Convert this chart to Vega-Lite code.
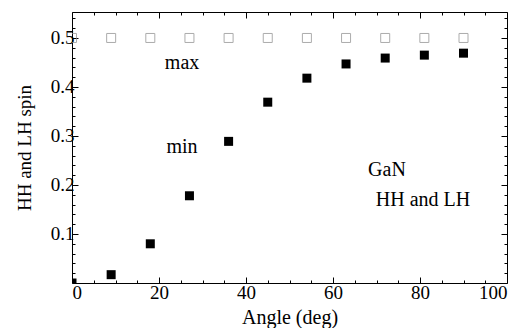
{
  "$schema": "https://vega.github.io/schema/vega-lite/v6.json",
  "width": 435,
  "height": 271,
  "autosize": "none",
  "padding": {"left": 72, "top": 12, "right": 17, "bottom": 45},
  "background": "white",
  "config": {
    "view": {"stroke": "black", "strokeWidth": 1},
    "font": "Liberation Serif",
    "axis": {
      "grid": false,
      "domain": false,
      "labelFont": "Liberation Serif",
      "titleFont": "Liberation Serif",
      "labelFontSize": 19,
      "titleFontSize": 20,
      "titleFontWeight": "normal",
      "labelColor": "black",
      "titleColor": "black",
      "tickColor": "black"
    }
  },
  "datasets": {
    "filled": [
      {"angle": 0, "spin": 0.0},
      {"angle": 9, "spin": 0.017},
      {"angle": 18, "spin": 0.08},
      {"angle": 27, "spin": 0.178},
      {"angle": 36, "spin": 0.289},
      {"angle": 45, "spin": 0.369},
      {"angle": 54, "spin": 0.418},
      {"angle": 63, "spin": 0.447},
      {"angle": 72, "spin": 0.459},
      {"angle": 81, "spin": 0.465},
      {"angle": 90, "spin": 0.469}
    ],
    "open": [
      {"angle": 0, "spin": 0.5},
      {"angle": 9, "spin": 0.5},
      {"angle": 18, "spin": 0.5},
      {"angle": 27, "spin": 0.5},
      {"angle": 36, "spin": 0.5},
      {"angle": 45, "spin": 0.5},
      {"angle": 54, "spin": 0.5},
      {"angle": 63, "spin": 0.5},
      {"angle": 72, "spin": 0.5},
      {"angle": 81, "spin": 0.5},
      {"angle": 90, "spin": 0.5}
    ],
    "labels": [
      {"angle": 25.3, "spin": 0.449, "text": "max"},
      {"angle": 25.3, "spin": 0.277, "text": "min"},
      {"angle": 72.4, "spin": 0.23, "text": "GaN"},
      {"angle": 80.7, "spin": 0.17, "text": "HH and LH"}
    ]
  },
  "resolve": {"axis": {"x": "independent", "y": "independent"}},
  "layer": [
    {
      "data": {"name": "open"},
      "mark": {"type": "square", "filled": false, "stroke": "#8a8a8a", "strokeWidth": 1, "size": 81, "clip": true},
      "encoding": {
        "x": {
          "field": "angle", "type": "quantitative",
          "scale": {"domain": [0, 100], "nice": false, "zero": false},
          "axis": {
            "title": "Angle  (deg)",
            "format": "d",
            "values": [0,5,10,15,20,25,30,35,40,45,50,55,60,65,70,75,80,85,90,95,100],
            "labelExpr": "datum.value % 20 === 0 ? datum.label : ''",
            "tickSize": {"condition": {"test": "datum.value % 20 === 0", "value": -6}, "value": -3},
            "labelPadding": 6,
            "titlePadding": 5
          }
        },
        "y": {
          "field": "spin", "type": "quantitative",
          "scale": {"domain": [0, 0.553], "nice": false, "zero": false},
          "axis": {
            "title": "HH and LH spin",
            "titleFontSize": 19,
            "format": ".1f",
            "values": [0.02,0.04,0.06,0.08,0.1,0.12,0.14,0.16,0.18,0.2,0.22,0.24,0.26,0.28,0.3,0.32,0.34,0.36,0.38,0.4,0.42,0.44,0.46,0.48,0.5,0.52,0.54],
            "labelExpr": "abs(datum.value*10 - round(datum.value*10)) < 0.001 ? datum.label : ''",
            "tickSize": {"condition": {"test": "abs(datum.value*10 - round(datum.value*10)) < 0.001", "value": -6}, "value": -3},
            "labelPadding": 4,
            "titlePadding": 16
          }
        }
      }
    },
    {
      "data": {"name": "filled"},
      "mark": {"type": "square", "filled": true, "color": "black", "opacity": 1, "size": 81, "clip": true},
      "encoding": {
        "x": {
          "field": "angle", "type": "quantitative",
          "axis": {
            "orient": "top", "title": null, "labels": false,
            "values": [0,5,10,15,20,25,30,35,40,45,50,55,60,65,70,75,80,85,90,95,100],
            "tickSize": {"condition": {"test": "datum.value % 20 === 0", "value": -6}, "value": -3}
          }
        },
        "y": {
          "field": "spin", "type": "quantitative",
          "axis": {
            "orient": "right", "title": null, "labels": false,
            "values": [0.02,0.04,0.06,0.08,0.1,0.12,0.14,0.16,0.18,0.2,0.22,0.24,0.26,0.28,0.3,0.32,0.34,0.36,0.38,0.4,0.42,0.44,0.46,0.48,0.5,0.52,0.54],
            "tickSize": {"condition": {"test": "abs(datum.value*10 - round(datum.value*10)) < 0.001", "value": -6}, "value": -3}
          }
        }
      }
    },
    {
      "data": {"name": "labels"},
      "mark": {"type": "text", "font": "Liberation Serif", "fontSize": 20, "color": "black", "align": "center", "baseline": "middle"},
      "encoding": {
        "x": {"field": "angle", "type": "quantitative", "axis": null},
        "y": {"field": "spin", "type": "quantitative", "axis": null},
        "text": {"field": "text"}
      }
    }
  ]
}
